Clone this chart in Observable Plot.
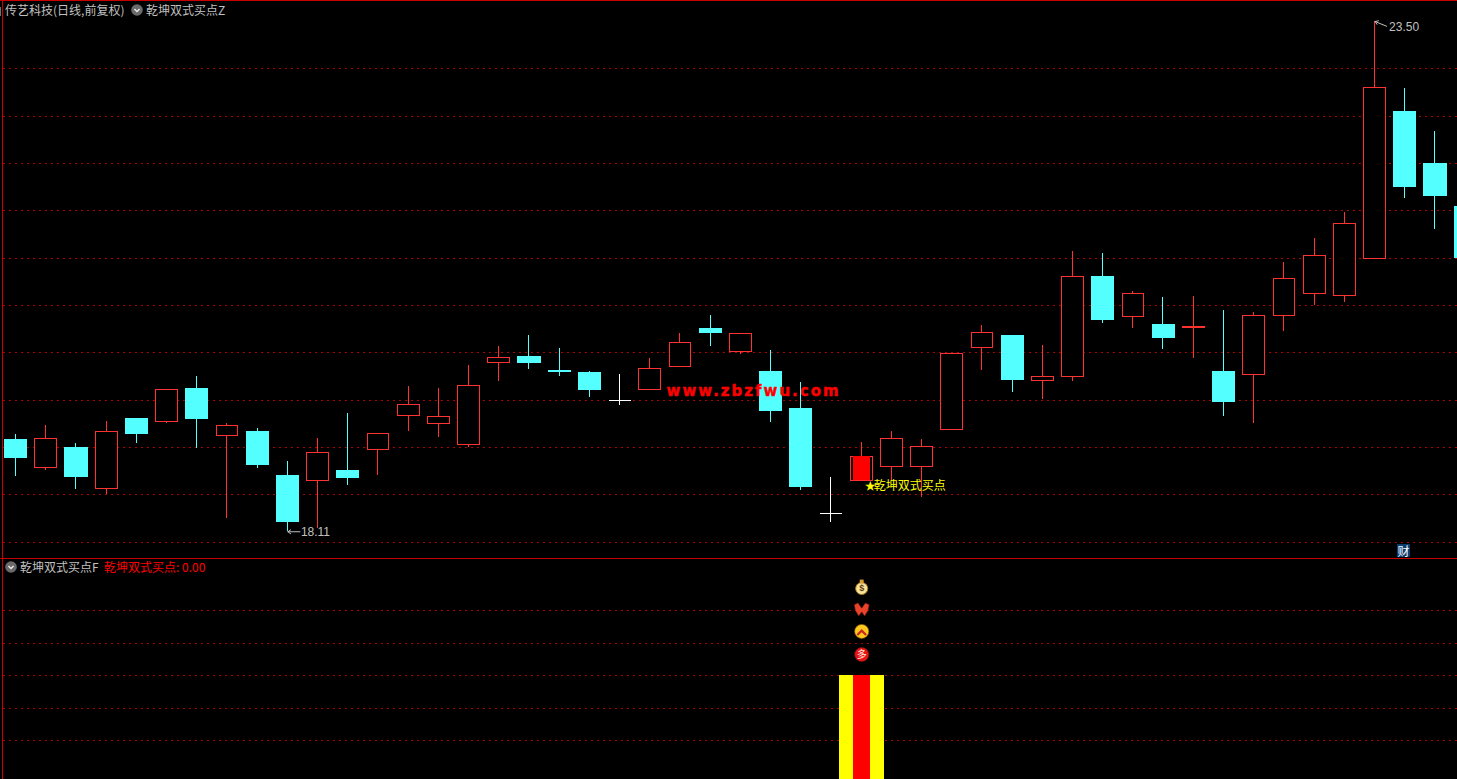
<!DOCTYPE html>
<html lang="zh">
<head>
<meta charset="utf-8">
<title>传艺科技</title>
<script src="https://cdn.jsdelivr.net/npm/d3@7"></script>
<script src="https://cdn.jsdelivr.net/npm/@observablehq/plot@0.6"></script>
<style>
  html,body{margin:0;padding:0;background:#000;overflow:hidden}
  #wrap{position:relative;width:1457px;height:779px;background:#000;overflow:hidden;font-family:"Noto Sans CJK SC",sans-serif}
  #wrap svg{display:block}
  .lab{position:absolute;font-size:12px;line-height:14px;white-space:pre;color:#c0c0c0}
  .line{position:absolute;background:#c80000}
  .knob{position:absolute;width:12px;height:12px}
</style>
</head>
<body>
<div id="wrap"></div>
<script>
const opens  = [19.08,18.78,19.00,18.56,19.31,19.27,19.62,19.12,19.17,18.70,18.65,18.76,18.97,19.33,19.25,19.03,19.89,19.96,19.81,19.79,19.50,19.61,19.85,20.26,20.01,19.80,19.41,18.30,18.65,18.79,18.79,19.19,20.05,20.18,19.70,19.74,20.81,20.38,20.30,20.26,19.80,19.77,20.39,20.62,20.60,20.99,22.55,22.00,21.55];
const closes = [18.88,19.09,18.68,19.16,19.14,19.61,19.30,19.23,18.81,18.21,18.94,18.67,19.14,19.45,19.32,19.65,19.95,19.89,19.79,19.60,19.50,19.83,20.10,20.20,20.20,19.38,18.58,18.30,18.90,19.09,19.01,19.99,20.21,19.71,19.74,20.80,20.34,20.62,20.15,20.27,19.48,20.39,20.78,21.02,21.36,22.80,21.75,21.65,21.00];
const highs  = [19.14,19.23,19.04,19.27,19.31,19.61,19.75,19.25,19.20,18.85,19.10,19.36,19.14,19.64,19.62,19.87,20.07,20.18,20.05,19.80,19.77,19.94,20.20,20.39,20.20,20.02,19.69,18.68,19.05,19.17,19.08,19.99,20.29,20.18,20.08,21.07,21.05,20.65,20.58,20.60,20.45,20.43,20.95,21.21,21.48,23.50,22.79,22.34,21.55];
const lows   = [18.69,18.76,18.56,18.50,19.04,19.25,18.99,18.25,18.78,18.11,18.14,18.60,18.70,19.17,19.11,19.00,19.70,19.82,19.75,19.53,19.44,19.61,19.85,20.07,19.98,19.26,18.55,18.21,18.65,18.64,18.47,19.19,19.81,19.58,19.51,19.70,20.31,20.26,20.04,19.94,19.33,19.25,20.23,20.50,20.53,20.99,21.63,21.30,21.00];
const priceGrid = [18,18.5,19,19.5,20,20.5,21,21.5,22,22.5,23];
const signalGrid = [1,2,3,4,5];
const signalIndex = 28;
const signalBar = 3;
const signalFloor = -0.186;
const iconLevels = {bag:5.72, fly:5.04, up:4.37, duo:3.66};
const highLabel = "23.50", lowLabel = "18.11";
const watermark = "www.zbzfwu.com";
const buyStar = "★", buyLabel = "乾坤双式买点";

const RED="#ff3232", CYAN="#54ffff", GRIDC="#b00000";
const GRID_DASH="2,4";
const candles = opens.map((o,i)=>({i,o,c:closes[i],h:highs[i],l:lows[i],top:Math.max(o,closes[i]),bot:Math.min(o,closes[i])}));
const upCandles = candles.filter(d=>d.c>d.o), downCandles = candles.filter(d=>d.c<d.o), flatCandles = candles.filter(d=>d.c===d.o);
const xScale = {domain:[-15.6/30.2,(1457-15.6)/30.2],range:[0,1457]};
const crisp = {shapeRendering:"crispEdges"};
const hiCandle = candles[45], loCandle = candles[9];
const wick = (data,color)=>Plot.ruleX(data,{x:"i",y1:"l",y2:"h",stroke:color,strokeWidth:1,dx:-0.7,...crisp});

const topPane = Plot.plot({
  width:1457,height:558,margin:0,
  style:{background:"#000",display:"block",overflow:"hidden"},
  x:{...xScale,axis:null},
  y:{domain:[23.5-537/94.67,23.5+21/94.67],range:[558,0],axis:null},
  marks:[
    Plot.ruleY(priceGrid,{x1:xScale.domain[0]+0.1,x2:xScale.domain[1],stroke:GRIDC,strokeWidth:1,strokeDasharray:GRID_DASH,...crisp}),
    wick(upCandles,RED),wick(downCandles,CYAN),wick(flatCandles,"#ffffff"),
    Plot.rect(downCandles,{x1:d=>d.i-0.381,x2:d=>d.i+0.381,y1:"bot",y2:"top",fill:CYAN,...crisp}),
    Plot.rect(upCandles,{x1:d=>d.i-0.364,x2:d=>d.i+0.364,y1:"bot",y2:"top",fill:"#000",stroke:RED,strokeWidth:1,...crisp}),
    Plot.rect(candles.filter(d=>d.i===signalIndex),{x1:d=>d.i-0.28,x2:d=>d.i+0.28,y1:"bot",y2:"top",fill:"#ff0000",...crisp}),
    Plot.ruleY(flatCandles,{x1:d=>d.i-0.364,x2:d=>d.i+0.364,y:"c",stroke:"#fff",strokeWidth:1,...crisp}),
    Plot.text([watermark],{x:()=>24.42,y:()=>19.6,text:d=>d,fill:"#ff0000",stroke:"#ff0000",strokeWidth:0.4,fontFamily:"DejaVu Sans",fontWeight:"bold",fontSize:15,className:"wm"}),
    Plot.ruleX(candles.filter(d=>d.i===26),{x:"i",y1:"top",y2:"h",stroke:CYAN,dx:-0.7,...crisp}),
    Plot.text([buyStar],{x:()=>signalIndex,y:()=>candles[signalIndex].bot,text:d=>d,textAnchor:"start",dx:3,dy:6,fill:"#ffff00",fontSize:11,fontFamily:"Noto Sans CJK SC"}),
    Plot.text([buyLabel],{x:()=>signalIndex,y:()=>candles[signalIndex].bot,text:d=>d,textAnchor:"start",dx:12,dy:6,fill:"#ffff00",fontSize:12,fontFamily:"Noto Sans CJK SC"}),
    Plot.arrow([hiCandle],{x1:d=>d.i+0.38,y1:d=>d.h-0.05,x2:"i",y2:"h",stroke:"#c0c0c0",strokeWidth:1,headLength:5,headAngle:70,bend:0}),
    Plot.text([hiCandle],{x:"i",y:"h",text:()=>highLabel,textAnchor:"start",dx:14,dy:6,fill:"#c0c0c0",fontSize:12,fontFamily:"Liberation Sans"}),
    Plot.arrow([loCandle],{x1:d=>d.i+0.4,y1:"l",x2:"i",y2:"l",stroke:"#c0c0c0",strokeWidth:1,headLength:5,headAngle:70,bend:0}),
    Plot.text([loCandle],{x:"i",y:"l",text:()=>lowLabel,textAnchor:"start",dx:13,dy:0,fill:"#c0c0c0",fontSize:12,fontFamily:"Liberation Sans"})
  ]
});
d3.select(topPane).selectAll(".wm text").attr("letter-spacing",2);

const butterfly = {draw(c,s){const r=Math.sqrt(s);
  c.moveTo(0,-0.2*r);c.lineTo(-0.5*r,-0.9*r);c.lineTo(-1*r,-0.65*r);c.lineTo(-0.85*r,0.1*r);c.lineTo(-0.4*r,0.85*r);c.lineTo(0,0.3*r);
  c.lineTo(0.4*r,0.85*r);c.lineTo(0.85*r,0.1*r);c.lineTo(1*r,-0.65*r);c.lineTo(0.5*r,-0.9*r);c.closePath();}};
const chevron = {draw(c,s){const r=Math.sqrt(s);
  c.moveTo(-r,0.55*r);c.lineTo(0,-0.45*r);c.lineTo(r,0.55*r);c.lineTo(r*0.7,0.85*r);c.lineTo(0,0.15*r);c.lineTo(-r*0.7,0.85*r);c.closePath();}};

const atSignal = level=>[{i:signalIndex,v:level}];
const bottomPane = Plot.plot({
  width:1457,height:220,margin:0,
  style:{background:"#000",display:"block",overflow:"hidden"},
  x:{...xScale,axis:null},
  y:{domain:[signalFloor,6.583],range:[220,0],axis:null},
  marks:[
    Plot.ruleY(signalGrid,{x1:xScale.domain[0]+0.1,x2:xScale.domain[1],stroke:GRIDC,strokeWidth:1,strokeDasharray:GRID_DASH,...crisp}),
    Plot.rect(atSignal(signalBar),{x1:d=>d.i-0.75,x2:d=>d.i+0.75,y1:signalFloor,y2:"v",fill:"#ffff00",...crisp}),
    Plot.rect(atSignal(signalBar),{x1:d=>d.i-0.28,x2:d=>d.i+0.28,y1:signalFloor,y2:"v",fill:"#ff0000",...crisp}),
    Plot.dot(atSignal(iconLevels.bag),{x:"i",y:"v",r:6,dy:1,fill:"#f4e49a",stroke:"#b07a20",strokeWidth:1}),
    Plot.dot(atSignal(iconLevels.bag),{x:"i",y:"v",symbol:"square",r:2.2,dy:-6,fill:"#d8a030"}),
    Plot.text(atSignal(iconLevels.bag),{x:"i",y:"v",text:()=>"$",dy:1,fill:"#6a3a10",fontSize:9,fontWeight:"bold",fontFamily:"Liberation Sans"}),
    Plot.dot(atSignal(iconLevels.fly),{x:"i",y:"v",symbol:butterfly,r:4.2,fill:"#e8442c",stroke:"#7a1010",strokeWidth:0.6}),
    Plot.dot(atSignal(iconLevels.up),{x:"i",y:"v",r:7,fill:"#ffc81e",stroke:"#a06a00",strokeWidth:0.6}),
    Plot.dot(atSignal(iconLevels.up),{x:"i",y:"v",symbol:chevron,r:2.9,fill:"#c8281c"}),
    Plot.dot(atSignal(iconLevels.duo),{x:"i",y:"v",r:7,fill:"#e81414",stroke:"#801010",strokeWidth:0.6}),
    Plot.text(atSignal(iconLevels.duo),{x:"i",y:"v",text:()=>"多",fill:"#ffe8e0",fontSize:10,fontFamily:"Noto Sans CJK SC"})
  ]
});

const wrap = document.getElementById("wrap");
wrap.append(topPane);
const sep = document.createElement("div");
sep.style.cssText="height:1px;background:#c80000";
wrap.append(sep);
wrap.append(bottomPane);

function label(text,x,y,color,extra){
  const s=document.createElement("span");s.className="lab";s.textContent=text;
  s.style.left=x+"px";s.style.top=y+"px";if(color)s.style.color=color;
  if(extra)s.style.cssText+=extra;wrap.append(s);return s;
}
function knob(x,y){
  const ns="http://www.w3.org/2000/svg";
  const g=document.createElementNS(ns,"svg");g.setAttribute("class","knob");g.setAttribute("viewBox","0 0 12 12");
  g.style.left=x+"px";g.style.top=y+"px";g.style.position="absolute";
  g.innerHTML='<circle cx="6" cy="6" r="5.8" fill="#6a6a6a"/><path d="M3.4 5 L6 7.6 L8.6 5" fill="none" stroke="#e8e8e8" stroke-width="1.4"/>';
  wrap.append(g);
}
["left:2px;top:0;width:1px;height:779px","left:0;top:0;width:1457px;height:1px"].forEach(css=>{
  const d=document.createElement("div");d.className="line";d.style.cssText=css;wrap.append(d);
});
const tick=document.createElement("div");tick.style.cssText="position:absolute;left:0;top:7px;width:1px;height:9px;background:#707070";wrap.append(tick);

label("传艺科技(日线,前复权)",5,3);
knob(131,4);
label("乾坤双式买点Z",146,3);
knob(5,561);
label("乾坤双式买点F",20,560);
label("乾坤双式买点: 0.00",104,560,"#ff0000");
label("财",1397,544,"#ffffff","background:#0a3c70;width:13px;height:13px;line-height:13px;text-align:center");
</script>
</body>
</html>
